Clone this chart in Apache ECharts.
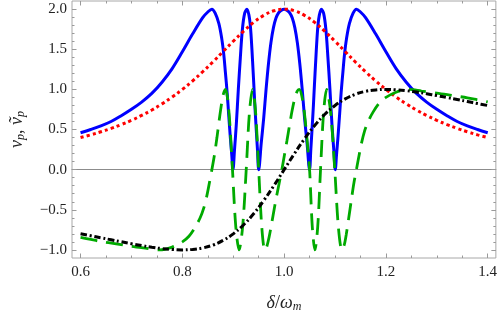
<!DOCTYPE html>
<html><head><meta charset="utf-8">
<script src="https://cdn.jsdelivr.net/npm/echarts@6/dist/echarts.min.js"></script>
<style>html,body{margin:0;padding:0;background:#fff}#c{width:500px;height:318px}</style>
</head><body><div id="c"></div>
<script>
// ---- data ----
const xMajorTicks = [0.6, 0.8, 1.0, 1.2, 1.4];
const xMinorTicks = [0.6,0.65,0.7,0.75,0.8,0.85,0.9,0.95,1.0,1.05,1.1,1.15,1.2,1.25,1.3,1.35,1.4];
const yMajorTicks = [-1, -0.5, 0, 0.5, 1, 1.5, 2];
const yMinorTicks = [-1,-0.9,-0.8,-0.7,-0.6,-0.5,-0.4,-0.3,-0.2,-0.1,0,0.1,0.2,0.3,0.4,0.5,0.6,0.7,0.8,0.9,1,1.1,1.2,1.3,1.4,1.5,1.6,1.7,1.8,1.9,2];

const gridX = [0.60,0.62,0.64,0.66,0.68,0.70,0.72,0.74,0.76,0.78,0.80,0.82,0.84,0.86,0.88,0.90,0.92,0.94,0.96,0.98,1.00,1.02,1.04,1.06,1.08,1.10,1.12,1.14,1.16,1.18,1.20,1.22,1.24,1.26,1.28,1.30,1.32,1.34,1.36,1.38,1.40];
const redVals = [0.400,0.434,0.472,0.514,0.562,0.615,0.676,0.743,0.820,0.905,1.000,1.105,1.220,1.342,1.471,1.600,1.724,1.835,1.923,1.980,2.000,1.980,1.923,1.835,1.724,1.600,1.471,1.342,1.220,1.105,1.000,0.905,0.820,0.743,0.676,0.615,0.562,0.514,0.472,0.434,0.400];
const blackVals = [-0.800,-0.824,-0.849,-0.874,-0.899,-0.923,-0.946,-0.967,-0.984,-0.995,-1.000,-0.994,-0.976,-0.940,-0.882,-0.800,-0.690,-0.550,-0.385,-0.198,0.000,0.198,0.385,0.550,0.690,0.800,0.882,0.940,0.976,0.994,1.000,0.995,0.984,0.967,0.946,0.923,0.899,0.874,0.849,0.824,0.800];

const blueX = [0.600,0.620,0.640,0.660,0.680,0.700,0.720,0.740,0.760,0.780,0.800,0.820,0.840,0.850,0.858,0.8645,0.8718,0.8775,0.8815,0.8845,0.888,0.891,0.8943,0.897,0.8995,0.9025,0.906,0.910,0.914,0.918,0.9225,0.927,0.931,0.9335,0.9355,0.938,0.9405,0.9425,0.945,0.9475,0.950,0.955,0.9598,0.9645,0.9694,0.974,0.979,0.984,0.989,0.994,1.000,1.006,1.011,1.016,1.021,1.026,1.0306,1.0355,1.0402,1.045,1.050,1.0525,1.055,1.0575,1.0595,1.062,1.0645,1.0665,1.069,1.073,1.0775,1.082,1.086,1.090,1.094,1.0975,1.1005,1.103,1.1057,1.109,1.112,1.1155,1.1185,1.1225,1.1282,1.1355,1.142,1.150,1.160,1.180,1.200,1.220,1.240,1.260,1.280,1.300,1.320,1.340,1.360,1.380,1.400];
const blueVals = [0.460,0.500,0.545,0.600,0.672,0.752,0.842,0.950,1.090,1.260,1.470,1.690,1.895,1.965,2.00,1.95,1.82,1.63,1.43,1.22,0.96,0.69,0.40,0.19,0.00,0.25,0.56,1.00,1.40,1.75,1.95,2.00,1.92,1.80,1.63,1.35,1.05,0.80,0.52,0.26,0.00,0.33,0.64,1.00,1.33,1.58,1.77,1.89,1.955,1.985,2.00,1.985,1.955,1.89,1.77,1.58,1.33,1.00,0.64,0.33,0.00,0.26,0.52,0.80,1.05,1.35,1.63,1.80,1.92,2.00,1.95,1.75,1.40,1.00,0.56,0.25,0.00,0.19,0.40,0.69,0.96,1.22,1.43,1.63,1.82,1.95,2.00,1.965,1.895,1.690,1.470,1.260,1.090,0.950,0.842,0.752,0.672,0.600,0.545,0.500,0.460];

const greenX = [0.600,0.620,0.640,0.670,0.700,0.730,0.755,0.780,0.800,0.813,0.825,0.835,0.842,0.848,0.853,0.858,0.863,0.868,0.8725,0.877,0.881,0.885,0.8917,0.8985,0.905,0.9115,0.9185,0.9255,0.9318,0.938,0.944,0.950,0.956,0.962,0.9655,0.9705,0.9755,0.9805,0.9855,0.9905,0.9955,1.0005,1.0055,1.0105,1.0155,1.0205,1.0255,1.0296,1.0347,1.0398,1.0449,1.050,1.0553,1.0605,1.066,1.0715,1.0775,1.0835,1.0915,1.0995,1.1065,1.1135,1.118,1.122,1.127,1.132,1.137,1.142,1.147,1.152,1.158,1.165,1.175,1.187,1.200,1.220,1.245,1.270,1.300,1.330,1.360,1.380,1.400];
const greenVals = [-0.845,-0.87,-0.895,-0.925,-0.955,-0.98,-1.00,-0.965,-0.90,-0.83,-0.72,-0.60,-0.48,-0.33,-0.17,0.00,0.18,0.40,0.62,0.82,0.95,1.00,0.71,0.00,-0.71,-1.00,-0.71,0.00,0.71,1.00,0.71,0.00,-0.71,-1.00,-0.967,-0.84,-0.67,-0.49,-0.32,-0.16,0.00,0.18,0.36,0.55,0.73,0.88,0.975,1.00,0.92,0.71,0.38,0.00,-0.71,-1.00,-0.71,0.00,0.71,1.00,0.71,0.00,-0.71,-1.00,-0.94,-0.81,-0.60,-0.38,-0.17,0.00,0.17,0.33,0.48,0.60,0.72,0.83,0.90,0.965,1.00,0.98,0.955,0.925,0.895,0.87,0.845];

// ---- chart ----
const XMIN = 0.5832, XMAX = 1.416, YMIN = -1.101, YMAX = 2.102;
const SERIF = "'Liberation Serif','DejaVu Serif',serif";
const TICK = '#9a9a9a';
const zip = (xs, ys) => xs.map((x, i) => [x, ys[i]]);

function xAx(opts) {
  return Object.assign({
    type: 'value', min: XMIN, max: XMAX, gridIndex: 0,
    axisLine: { show: false, onZero: false },
    splitLine: { show: false },
    axisLabel: { show: false },
    axisTick: { show: false }
  }, opts);
}
function yAx(opts) {
  return Object.assign({
    type: 'value', min: YMIN, max: YMAX, gridIndex: 0,
    axisLine: { show: false, onZero: false },
    splitLine: { show: false },
    axisLabel: { show: false },
    axisTick: { show: false }
  }, opts);
}
const fmt = v => (v < 0 ? '\u2212' + Math.abs(v).toFixed(1) : v.toFixed(1));
const nameRich = {
  i: { fontFamily: SERIF, fontStyle: 'italic', fontSize: 18, color: '#222' },
  n: { fontFamily: SERIF, fontSize: 18, color: '#222' },
  s: { fontFamily: SERIF, fontStyle: 'italic', fontSize: 12, color: '#222', padding: [8, 0, 0, 0] }
};

const option = {
  animation: false,
  backgroundColor: '#fff',
  grid: { left: 67, top: 1, width: 431, height: 266.7, show: true, borderColor: '#a8a8a8', borderWidth: 1, backgroundColor: 'transparent' },
  xAxis: [
    xAx({ position: 'bottom',
      axisTick: { show: true, inside: true, length: 4.5, customValues: xMajorTicks, lineStyle: { color: TICK, width: 1 } },
      axisLabel: { show: true, customValues: xMajorTicks, formatter: fmt, fontFamily: SERIF, fontSize: 15, color: '#222', margin: 7 },
      name: '{i|\u03b4}{n|/}{i|\u03c9}{s|m}', nameLocation: 'middle', nameGap: 35,
      nameTextStyle: { rich: nameRich }
    }),
    xAx({ position: 'bottom', axisTick: { show: true, inside: true, length: 2.5, customValues: xMinorTicks, lineStyle: { color: TICK, width: 1 } } }),
    xAx({ position: 'top', axisTick: { show: true, inside: true, length: 4.5, customValues: xMajorTicks, lineStyle: { color: TICK, width: 1 } } }),
    xAx({ position: 'top', axisTick: { show: true, inside: true, length: 2.5, customValues: xMinorTicks, lineStyle: { color: TICK, width: 1 } } }),
    xAx({ position: 'bottom', axisLine: { show: true, onZero: true, onZeroAxisIndex: 0, lineStyle: { color: '#8c8c8c', width: 1 } } })
  ],
  yAxis: [
    yAx({ position: 'left',
      axisTick: { show: true, inside: true, length: 4.5, customValues: yMajorTicks, lineStyle: { color: TICK, width: 1 } },
      axisLabel: { show: true, customValues: yMajorTicks, formatter: fmt, fontFamily: SERIF, fontSize: 15, color: '#222', margin: 5 },
      name: '{i|v}{s|p}{n|, }{i|\u1e7d}{s|p}', nameLocation: 'middle', nameGap: 45, nameRotate: 90,
      nameTextStyle: { rich: nameRich }
    }),
    yAx({ position: 'left', axisTick: { show: true, inside: true, length: 2.5, customValues: yMinorTicks, lineStyle: { color: TICK, width: 1 } } }),
    yAx({ position: 'right', axisTick: { show: true, inside: true, length: 4.5, customValues: yMajorTicks, lineStyle: { color: TICK, width: 1 } } }),
    yAx({ position: 'right', axisTick: { show: true, inside: true, length: 2.5, customValues: yMinorTicks, lineStyle: { color: TICK, width: 1 } } })
  ],
  series: [
    { type: 'line', name: 'blue', data: zip(blueX, blueVals), showSymbol: false, smooth: 0.35,
      lineStyle: { color: '#0000ff', width: 3, cap: 'butt', join: 'round' } },
    { type: 'line', name: 'red', data: zip(gridX, redVals), showSymbol: false, smooth: 0.4,
      lineStyle: { color: '#ff0000', width: 3, type: [3.2, 3.1], cap: 'butt' } },
    { type: 'line', name: 'green', data: zip(greenX, greenVals), showSymbol: false, smooth: 0.3,
      lineStyle: { color: '#00aa00', width: 2.8, type: [17, 9], cap: 'butt' } },
    { type: 'line', name: 'black', data: zip(gridX, blackVals), showSymbol: false, smooth: 0.4,
      lineStyle: { color: '#000000', width: 3, type: [6.5, 2.7, 2, 2.7], cap: 'butt' } }
  ]
};
echarts.init(document.getElementById('c'), null, { renderer: 'canvas' }).setOption(option);
</script>
</body></html>
